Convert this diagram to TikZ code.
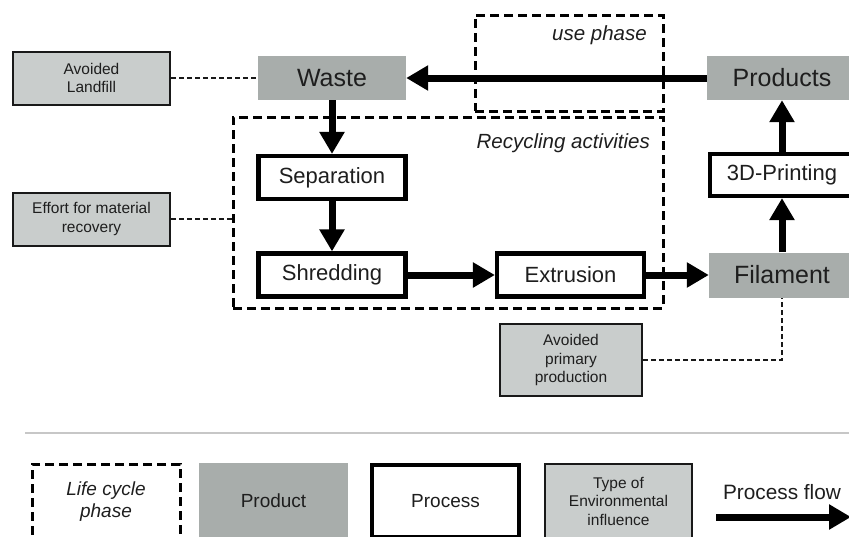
\documentclass[tikz,border=0pt]{standalone}
\usepackage{fontspec}
\setmainfont{Liberation Sans}
\usetikzlibrary{arrows.meta,calc}
\definecolor{prodgray}{RGB}{168,173,171}
\definecolor{envgray}{RGB}{201,205,204}
\definecolor{txt}{RGB}{30,30,30}
\begin{document}
\begin{tikzpicture}[x=1pt,y=-1pt,
 prod/.style={fill=prodgray, minimum width=148pt, minimum height=44pt, inner sep=0pt, text=txt, font=\fontsize{25}{28}\selectfont},
 proc/.style={draw=black, line width=4.2pt, fill=white, minimum width=147pt, minimum height=43pt, inner sep=0pt, text=txt, font=\fontsize{22}{25}\selectfont},
 env/.style={draw=black!90, line width=2pt, fill=envgray, align=center, inner sep=0pt, text=txt, font=\fontsize{15.5}{18.5}\selectfont},
 phase/.style={draw=black, line width=3pt, dash pattern=on 9pt off 5pt, inner sep=0pt},
 link/.style={draw=black!90, line width=2pt, dash pattern=on 5pt off 3pt},
 flow/.style={line width=7pt, -{Triangle[length=22pt,width=24pt]}},
 lbl/.style={font=\fontsize{20.5}{24}\selectfont\itshape, text=txt, inner sep=0pt}
]
\useasboundingbox (0,0) rectangle (849,536);
\clip (0,0) rectangle (849,536);

% life cycle phase frames
\node[phase, minimum width=430pt, minimum height=191pt] (rec) at (448,212.5) {};
\node[lbl, anchor=east] (reclbl) at (650,143) {Recycling activities};
\node[phase, minimum width=188pt, minimum height=96pt] (use) at (569,63) {};
\node[lbl, anchor=east] (uselbl) at (647,35) {use phase};

% products
\node[prod] (waste) at (332,78) {Waste};
\node[prod, minimum width=150pt] (products) at (782,78) {Products};
\node[prod, minimum width=146pt, minimum height=45pt] (fil) at (782,275) {Filament};

% processes
\node[proc, minimum width=144pt, minimum height=42pt] (print) at (782,175) {3D-Printing};
\node[proc] (sep) at (332,177.5) {Separation};
\node[proc] (shr) at (332,275) {Shredding};
\node[proc] (ext) at (570.5,275) {Extrusion};

% environmental influences
\node[env, minimum width=157pt, minimum height=53pt] (landfill) at (91.5,78) {Avoided\\Landfill};
\node[env, minimum width=157pt, minimum height=53pt] (effort) at (91.5,219) {Effort for material\\recovery};
\node[env, minimum width=142pt, minimum height=72pt] (primary) at (571,360) {Avoided\\primary\\production};

% flows
\draw[flow] (products.west) -- (waste.east);
\draw[flow] (waste.south) -- (sep.north);
\draw[flow] (sep.south) -- (shr.north);
\draw[flow] (shr.east) -- (ext.west);
\draw[flow] (ext.east) -- (fil.west);
\draw[flow] (fil.north) -- (print.south);
\draw[flow] (print.north) -- (products.south);

% links
\draw[link] (landfill.east) -- (waste.west);
\draw[link] (effort.east) -- (effort.east -| rec.west);
\draw[link] (primary.east) -| (fil.south);

% separator
\draw[line width=2pt, color=black!22] (25,433) -- (849,433);

% legend
\node[phase, minimum width=148pt, minimum height=76pt, align=center, text=txt, font=\fontsize{19}{22}\selectfont\itshape] (lphase) at (106,502) {Life cycle\\phase};
\node[prod, minimum width=149pt, minimum height=76pt, font=\fontsize{19}{22}\selectfont] (lprod) at (273.5,501) {Product};
\node[proc, minimum width=147pt, minimum height=72pt, font=\fontsize{19}{22}\selectfont] (lproc) at (445.5,501) {Process};
\node[env, minimum width=147pt, minimum height=74pt] (lenv) at (618.5,501) {Type of\\Environmental\\influence};
\node[text=txt, inner sep=0pt, font=\fontsize{20.8}{24}\selectfont] (pflow) at (782,492) {Process flow};
\coordinate (fa) at (716,517);
\coordinate (fb) at (851,517);
\draw[flow] (fa) -- (fb);
\end{tikzpicture}
\end{document}
